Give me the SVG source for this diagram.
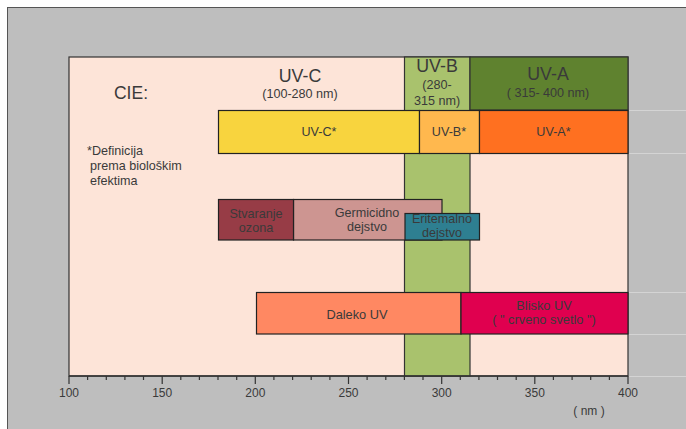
<svg xmlns="http://www.w3.org/2000/svg" width="686" height="429" viewBox="0 0 686 429">
<style>
text{font-family:"Liberation Sans",Arial,sans-serif;fill:#3a3a3a;text-anchor:middle}
.bar{stroke:#222;stroke-width:1.2}
.big{font-size:17.8px}
.mid{font-size:12.6px}
.sm{font-size:12.6px}
.ax{font-size:12px}
.tick{stroke:#333;stroke-width:1.2}
.faint{stroke:#d4d4d4;stroke-width:1}
</style>
<rect x="0" y="0" width="686" height="429" fill="#ffffff"/>
<rect x="7.5" y="7.5" width="690" height="430" fill="#bebebe" stroke="#555" stroke-width="1"/>
<g id="faint-lines">
<line class="faint" x1="628" y1="110.5" x2="686" y2="110.5"/>
<line class="faint" x1="628" y1="153.5" x2="686" y2="153.5"/>
<line class="faint" x1="628" y1="292.5" x2="686" y2="292.5"/>
<line class="faint" x1="628" y1="334.5" x2="686" y2="334.5"/>
<line class="faint" x1="628" y1="376.5" x2="686" y2="376.5"/>
</g>
<g id="plot">
<rect x="69" y="57" width="559" height="319" fill="#fde4d8" stroke="#333" stroke-width="1.2"/>
</g>
<g id="uvb-column">
<rect x="404.5" y="57" width="65.5" height="319" fill="#a9c26d" stroke="#333" stroke-width="1.2"/>
<text class="big" x="437" y="72">UV-B</text>
<text class="mid" x="437" y="89">(280-</text>
<text class="mid" x="437" y="105">315 nm)</text>
</g>
<g id="uva-header">
<rect x="470" y="57" width="158" height="53" fill="#5f822f" stroke="#333" stroke-width="1.2"/>
<text class="big" x="548" y="80">UV-A</text>
<text class="mid" x="548" y="97">( 315- 400 nm)</text>
</g>
<g id="uvc-header">
<text class="big" x="300" y="82">UV-C</text>
<text class="mid" x="300" y="98">(100-280 nm)</text>
</g>
<g id="cie">
<text x="131" y="98.5" style="font-size:17.5px">CIE:</text>
</g>
<g id="definicija">
<text class="sm" x="87" y="155" style="text-anchor:start">*Definicija</text>
<text class="sm" x="90" y="170" style="text-anchor:start">prema biološkim</text>
<text class="sm" x="90" y="185" style="text-anchor:start">efektima</text>
</g>
<g id="uvc-star">
<rect class="bar" x="218.5" y="110.5" width="201" height="43" fill="#f8d43e"/>
<text class="sm" x="319" y="135.5">UV-C*</text>
</g>
<g id="uvb-star">
<rect class="bar" x="419.5" y="110.5" width="60" height="43" fill="#ffb84e"/>
<text class="sm" x="449" y="135.5">UV-B*</text>
</g>
<g id="uva-star">
<rect class="bar" x="479.5" y="110.5" width="148.5" height="43" fill="#ff7020"/>
<text class="sm" x="553.5" y="135.5">UV-A*</text>
</g>
<g id="germicidno">
<rect class="bar" x="293.5" y="199.5" width="148.5" height="40.5" fill="#cd9591"/>
<text class="mid" x="367" y="217">Germicidno</text>
<text class="mid" x="367" y="231">dejstvo</text>
</g>
<g id="stvaranje">
<rect class="bar" x="218.5" y="199.5" width="75" height="40.5" fill="#973c46"/>
<text class="mid" x="256" y="217.5">Stvaranje</text>
<text class="mid" x="256" y="231.5">ozona</text>
</g>
<g id="eritemalno">
<rect class="bar" x="405" y="213.5" width="74.5" height="26.5" fill="#2e7f91"/>
<text class="mid" x="442" y="222.5">Eritemalno</text>
<text class="mid" x="442" y="237">dejstvo</text>
</g>
<g id="daleko">
<rect class="bar" x="256.5" y="292.5" width="204.5" height="41.5" fill="#ff8862"/>
<text x="357" y="318.5" style="font-size:12.8px">Daleko UV</text>
</g>
<g id="blisko">
<rect class="bar" x="461" y="292.5" width="167" height="41.5" fill="#e0004f"/>
<text x="544" y="309.5" style="font-size:12.8px">Blisko UV</text>
<text x="544" y="323.5" style="font-size:12.8px">( " crveno svetlo ")</text>
</g>
<g id="axis">
<line x1="69" y1="376" x2="628" y2="376" stroke="#333" stroke-width="1.4"/>
<path class="tick" d="M69 376v8M162.2 376v8M255.3 376v8M348.5 376v8M441.7 376v8M534.8 376v8M628 376v8"/>
<path class="tick" d="M87.6 376v4M106.3 376v4M124.9 376v4M143.5 376v4M180.8 376v4M199.4 376v4M218 376v4M236.7 376v4M273.9 376v4M292.6 376v4M311.2 376v4M329.9 376v4M367.1 376v4M385.8 376v4M404.4 376v4M423 376v4M460.3 376v4M478.9 376v4M497.5 376v4M516.2 376v4M553.4 376v4M572.1 376v4M590.7 376v4M609.4 376v4"/>
<text class="ax" x="69" y="397">100</text>
<text class="ax" x="162.2" y="397">150</text>
<text class="ax" x="255.3" y="397">200</text>
<text class="ax" x="348.5" y="397">250</text>
<text class="ax" x="441.7" y="397">300</text>
<text class="ax" x="534.8" y="397">350</text>
<text class="ax" x="628" y="397">400</text>
<text class="ax" x="589" y="415">( nm )</text>
</g>
</svg>
